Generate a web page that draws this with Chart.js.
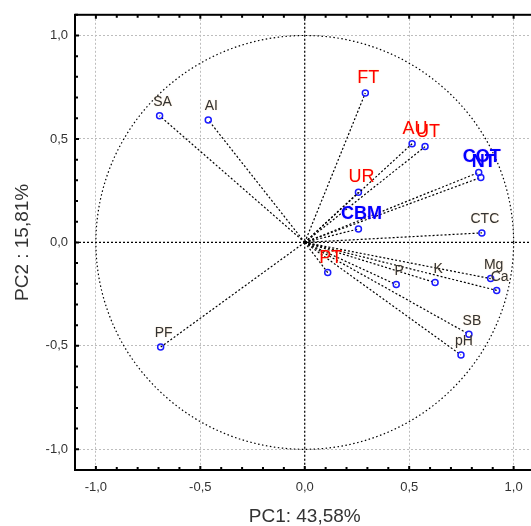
<!DOCTYPE html>
<html>
<head>
<meta charset="utf-8">
<script src="https://cdn.jsdelivr.net/npm/chart.js@4/dist/chart.umd.min.js"></script>
<style>
  html, body { margin: 0; padding: 0; overflow: hidden; background: #fff; }
  canvas { display: block; position: absolute; left: 0; top: 0; }
</style>
</head>
<body>
<canvas id="myChart" width="540" height="526"></canvas>
<script>
  // PCA loadings
  const names = ['SA', 'AI', 'FT', 'AU', 'UT', 'UR', 'COT', 'NT', 'CBM', 'CTC', 'PT', 'P', 'K', 'Mg', 'Ca', 'SB', 'pH', 'PF'];
  const pc1 = [-0.695, -0.462, 0.29, 0.514, 0.576, 0.257, 0.833, 0.843, 0.257, 0.848, 0.11, 0.438, 0.624, 0.89, 0.919, 0.786, 0.748, -0.69];
  const pc2 = [0.612, 0.592, 0.722, 0.477, 0.463, 0.242, 0.338, 0.314, 0.065, 0.046, -0.146, -0.204, -0.194, -0.175, -0.232, -0.444, -0.544, -0.506];
  const kinds = ['soil', 'soil', 'enzyme', 'enzyme', 'enzyme', 'enzyme', 'carbon', 'carbon', 'carbon', 'soil', 'enzyme', 'soil', 'soil', 'soil', 'soil', 'soil', 'soil', 'soil'];
  const tickValues = [-1.0, -0.5, 0.0, 0.5, 1.0];

  const fontFamily = "Arial, 'Liberation Sans', sans-serif";
  const labelStyle = {
    soil:   { color: '#333333', font: '14px ' + fontFamily, glow: 'rgba(255,170,60,0.35)', dy: -13.5 },
    enzyme: { color: '#ff0000', font: '18px ' + fontFamily, glow: 'rgba(255,220,0,0.35)', dy: -15 },
    carbon: { color: '#0000ff', font: 'bold 18px ' + fontFamily, glow: 'rgba(200,0,255,0.35)', dy: -15 }
  };

  const fmt = v => v.toFixed(1).replace('.', ',');

  const datasets = names.map((name, i) => ({
    label: name,
    data: [{ x: 0, y: 0 }, { x: pc1[i], y: pc2[i] }],
    showLine: true,
    borderColor: '#000',
    borderWidth: 1.2,
    borderDash: [2, 2],
    pointRadius: [0, 3],
    pointBorderColor: '#1a1aff',
    pointBackgroundColor: 'rgba(0,0,0,0)',
    pointBorderWidth: 1.5
  }));

  // unit circle, zero lines, labels and frame
  const decor = {
    id: 'decor',
    beforeDatasetsDraw(chart) {
      const { ctx, chartArea: a, scales: { x, y } } = chart;
      ctx.save();
      ctx.beginPath();
      ctx.rect(a.left, a.top, a.right - a.left, a.bottom - a.top);
      ctx.clip();
      ctx.strokeStyle = '#000';
      ctx.lineWidth = 1.2;
      ctx.setLineDash([2, 2]);
      const x0 = x.getPixelForValue(0), y0 = y.getPixelForValue(0);
      ctx.beginPath();
      ctx.moveTo(a.left, y0); ctx.lineTo(a.right, y0);
      ctx.moveTo(x0, a.top); ctx.lineTo(x0, a.bottom);
      ctx.stroke();
      const rx = x.getPixelForValue(1) - x0, ry = y0 - y.getPixelForValue(1);
      ctx.setLineDash([1.5, 2.5]);
      ctx.beginPath();
      ctx.ellipse(x0, y0, rx, ry, 0, 0, Math.PI * 2);
      ctx.stroke();
      ctx.restore();
    },
    afterDatasetsDraw(chart) {
      const { ctx } = chart;
      ctx.save();
      ctx.textAlign = 'center';
      ctx.textBaseline = 'middle';
      chart.data.datasets.forEach((ds, i) => {
        const pt = chart.getDatasetMeta(i).data[1];
        const st = labelStyle[kinds[i]];
        ctx.font = st.font;
        ctx.fillStyle = st.color;
        ctx.shadowColor = st.glow;
        ctx.shadowBlur = 1.5;
        ctx.fillText(ds.label, pt.x + 3, pt.y + st.dy);
      });
      ctx.restore();
    },
    afterDraw(chart) {
      const { ctx, chartArea: a, scales: { x, y } } = chart;
      ctx.save();
      ctx.strokeStyle = '#000';
      ctx.lineWidth = 2;
      ctx.strokeRect(a.left, a.top, a.right - a.left, a.bottom - a.top);
      for (let k = -11; k <= 11; k++) {
        const v = k / 10;
        const len = (k % 5 === 0) ? 4 : 3;
        const px = x.getPixelForValue(v), py = y.getPixelForValue(v);
        ctx.beginPath();
        ctx.moveTo(px, a.top); ctx.lineTo(px, a.top + len);
        ctx.moveTo(px, a.bottom); ctx.lineTo(px, a.bottom - len);
        ctx.moveTo(a.left, py); ctx.lineTo(a.left + len, py);
        ctx.stroke();
      }
      ctx.restore();
    }
  };

  const gridOpts = {
    color: '#bdbdbd',
    lineWidth: 1,
    drawTicks: false
  };

  const ctx = document.getElementById('myChart').getContext('2d');
  const chart = new Chart(ctx, {
    type: 'scatter',
    data: { datasets },
    plugins: [decor],
    options: {
      responsive: false,
      animation: false,
      layout: { padding: { left: 0, top: 10, right: 2, bottom: 0 } },
      plugins: { legend: { display: false }, tooltip: { enabled: false } },
      events: [],
      scales: {
        x: {
          type: 'linear', min: -1.1, max: 1.1,
          afterBuildTicks: s => { s.ticks = tickValues.map(v => ({ value: v })); },
          afterFit: s => { s.height = 56; },
          grid: gridOpts,
          border: { display: false, dash: [2, 2] },
          ticks: { padding: 10, color: '#333', font: { family: fontFamily, size: 13 }, callback: v => fmt(v) },
          title: { display: true, text: 'PC1: 43,58%', color: '#333', padding: 0, font: { family: fontFamily, size: 19, lineHeight: 1 } }
        },
        y: {
          type: 'linear', min: -1.1, max: 1.1,
          afterBuildTicks: s => { s.ticks = tickValues.map(v => ({ value: v })); },
          afterFit: s => { s.width = 75; },
          grid: gridOpts,
          border: { display: false, dash: [2, 2] },
          ticks: { padding: 7, color: '#333', font: { family: fontFamily, size: 13 }, callback: v => fmt(v) },
          title: { display: true, text: 'PC2 : 15,81%', color: '#333', padding: { top: 13, bottom: 0 }, font: { family: fontFamily, size: 19, lineHeight: 1 } }
        }
      }
    }
  });
</script>
</body>
</html>
